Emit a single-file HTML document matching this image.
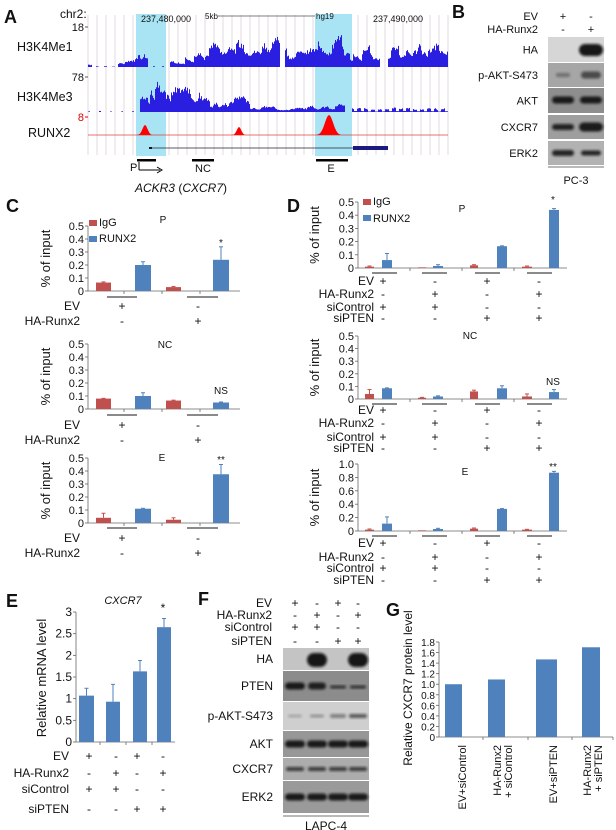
<!DOCTYPE html>
<html><head><meta charset="utf-8">
<style>
html,body{margin:0;padding:0;background:#fff;}
svg{display:block;font-family:"Liberation Sans",Arial,sans-serif;}
</style></head>
<body>
<svg id="s" width="616" height="830" viewBox="0 0 616 830" xmlns="http://www.w3.org/2000/svg">
<defs>
<filter id="bl" x="-20%" y="-50%" width="140%" height="200%"><feGaussianBlur stdDeviation="1.2"/></filter>
</defs>
<g id="g"></g>
</svg>
<script>
var out=[];
function T(x,y,t,o){o=o||{};out.push('<text x="'+x+'" y="'+y+'" font-size="'+(o.s||11)+'"'+(o.a?' text-anchor="'+o.a+'"':'')+(o.b?' font-weight="bold"':'')+(o.i?' font-style="italic"':'')+(o.f?' fill="'+o.f+'"':' fill="#111"')+(o.t?' transform="'+o.t+'"':'')+'>'+t+'</text>');}
function R(x,y,w,h,f,ex){out.push('<rect x="'+x+'" y="'+y+'" width="'+w+'" height="'+h+'" fill="'+f+'"'+(ex||'')+'/>');}
function L(x1,y1,x2,y2,c,w){out.push('<line x1="'+x1+'" y1="'+y1+'" x2="'+x2+'" y2="'+y2+'" stroke="'+(c||'#333')+'" stroke-width="'+(w||1)+'"/>');}
var seed=7;function rnd(){seed=(seed*9301+49297)%233280;return seed/233280;}

/* ---------- Panel A ---------- */
T(4,23,'A',{s:18,b:1});
for(var x=88;x<=448;x+=9)L(x,15,x,155,'#e2dae2',1);
R(136,14,30,142,'#a8e4f4');R(315,14,37,142,'#a8e4f4');
T(60,18,'chr2:',{s:12});
T(141,22,'237,480,000',{s:9});T(205,19,'5kb',{s:8});L(218,16,315,16,'#555',0.7);T(316,19,'hg19',{s:8});T(373,22,'237,490,000',{s:9});
T(84,31,'18',{s:11,a:'end'});L(85,27,88,27,'#555');
T(17,51,'H3K4Me1',{s:12.5});
T(84,81,'78',{s:11,a:'end'});L(85,77,88,77,'#555');
T(17,101,'H3K4Me3',{s:12.5});
T(84,121,'8',{s:11,a:'end',f:'#d00'});L(85,117,88,117,'#d00');
T(28,137,'RUNX2',{s:12.5});
function env1(x){if(x<92)return 4;if(x<118)return x%8<3?1:0;if(x<138)return 10;if(x<148)return 22;if(x<170)return x%9<2?1:0;if(x<185)return 5;if(x<205)return 16;if(x<280)return 26;if(x<285)return 0;if(x<300)return 20;if(x<350)return 30;if(x<380)return 18;if(x<388)return 0;if(x<448)return 22;return 0;}
function env2(x){if(x<140)return x%11<2?1:0;if(x<150)return 14;if(x<158)return 32;if(x<210)return 24;if(x<250)return 14;if(x<265)return 7;if(x<305)return 5;if(x<345)return 7;if(x<352)return 0;if(x<448)return x%7<4?4:1;return 0;}
function track(env,base){var p='M88,'+base;var cur=0.6,tgt=0.6;for(var x=88;x<=448;x+=1){if(rnd()<0.25)tgt=0.3+0.8*rnd();cur+= (tgt-cur)*0.5;var e=env(x);var h=Math.min(e*1.2,e*cur*(0.85+0.3*rnd()));p+=' L'+x+','+(base-h).toFixed(1)+' L'+(x+1)+','+(base-h).toFixed(1);}p+=' L448,'+base+' Z';out.push('<path d="'+p+'" fill="#2a1ee0"/>');}
track(env1,67);track(env2,112);
L(88,135,448,135,'#e04040',0.8);
function pk(c,h,w){var p='M'+(c-w)+',135';for(var i=-w;i<=w;i++){var v=Math.exp(-(i*i)/(w*w/5));p+=' L'+(c+i)+','+(135-h*v).toFixed(1);}p+=' Z';out.push('<path d="'+p+'" fill="#f00"/>');}
pk(145,10,8);pk(239,8,7);pk(329,20,13);
L(150,148,353,148,'#223',0.8);R(149,147,3,2,'#112');R(353,146,35,4,'#1a1a80');
R(137,159,19,2.5,'#000');R(192,159,22,2.5,'#000');R(316,159,32,2.5,'#000');
T(130,171,'P',{s:11});L(139,162,139,170,'#000');L(139,170,160,170,'#000');out.push('<path d="M157,167 L162,170 L157,173" fill="none" stroke="#000"/>');
T(203,172,'NC',{s:11,a:'middle'});T(331,172,'E',{s:11,a:'middle'});
out.push('<text x="181" y="192" font-size="12" text-anchor="middle" fill="#111"><tspan font-style="italic">ACKR3</tspan> (<tspan font-style="italic">CXCR7</tspan>)</text>');

function band(cx,cy,w,h,op){out.push('<rect x="'+(cx-w/2)+'" y="'+(cy-h/2)+'" width="'+w+'" height="'+h+'" rx="'+(h/2)+'" fill="#111" opacity="'+op+'" filter="url(#bl)"/>');}

/* ---------- Panel B ---------- */
T(452,18,'B',{s:18,b:1});
T(538,20,'EV',{s:11,a:'end'});T(538,33,'HA-Runx2',{s:11,a:'end'});
T(563,20,'+',{s:11,a:'middle'});T(591,20,'-',{s:11,a:'middle'});
T(563,33,'-',{s:11,a:'middle'});T(591,33,'+',{s:11,a:'middle'});
var bR=[[37,62,'#d6d6d6','HA'],[63,87,'#a6a6a6','p-AKT-S473'],[88,113,'#8e8e8e','AKT'],[115,139,'#9e9e9e','CXCR7'],[141,165,'#b2b2b2','ERK2']];
bR.forEach(function(r){R(548,r[0],56,r[1]-r[0],r[2]);T(538,(r[0]+r[1])/2+4,r[3],{s:11,a:'end'});});
band(591,50,24,12,0.95);
band(563,75,14,4,0.35);band(591,75,20,7,0.6);
band(563,100,22,7,0.9);band(591,100,22,7,0.9);
band(563,127,22,6,0.85);band(591,127,24,9,0.9);
band(563,153,22,6,0.85);band(591,153,20,5,0.85);
L(548,167,604,167,'#444',0.8);T(576,184,'PC-3',{s:11,a:'middle'});

var RED='#c0504d',BLUE='#4f81bd';
function chart(o){
 var sc=(o.zero-o.top)/o.max;
 L(o.ax,o.top,o.ax,o.zero,'#666',0.8);L(o.ax,o.zero,o.xend,o.zero,'#666',0.8);
 o.ticks.forEach(function(t){var y=o.zero-t[0]*sc;L(o.ax-3,y,o.ax,y,'#666',0.8);T(o.ax-4,y+4,t[1],{s:o.ts||11,a:'end'});});
 (o.xt||[]).forEach(function(x){L(x,o.zero,x,o.zero+3,'#666',0.8);});
 o.bars.forEach(function(b){var h=b[2]*sc;R(b[0],o.zero-h,b[1]-b[0],h,b[4]);if(b[3]){var cx=(b[0]+b[1])/2;L(cx,o.zero-h,cx,o.zero-h-b[3]*sc,b[4],1);L(cx-2,o.zero-h-b[3]*sc,cx+2,o.zero-h-b[3]*sc,b[4],1);}});
}
function rows(right,cols,labs,ys,vals,fs){labs.forEach(function(l,i){T(right,ys[i]+4,l,{s:fs||11,a:'end'});vals[i].forEach(function(v,j){T(cols[j],ys[i]+4,v,{s:fs||11,a:'middle'});});});}
function ylab(x,y,t,fs){T(x,y,t,{s:fs||12,a:'middle',t:'rotate(-90 '+x+' '+y+')'});}

/* ---------- Panel C ---------- */
T(6,212,'C',{s:18,b:1});
var tk5=[[0,'0'],[0.1,'0.1'],[0.2,'0.2'],[0.3,'0.3'],[0.4,'0.4'],[0.5,'0.5']];
function cchart(top,zero,vals,ul,evy,hay,lab,labx,laby,star,stary){
 chart({ax:88,top:top,zero:zero,xend:240,max:0.5,ticks:tk5,xt:[124,162,200],bars:[[96,111,vals[0],vals[1],RED],[135,151,vals[2],vals[3],BLUE],[166,181,vals[4],vals[5],RED],[213,229,vals[6],vals[7],BLUE]]});
 L(107,ul,137,ul,'#444',1.2);L(187,ul,218,ul,'#444',1.2);
 rows(80,[122,198],['EV','HA-Runx2'],[evy,hay],[['+','-'],['-','+']],12);
 T(labx,laby,lab,{s:10,a:'middle'});if(star)T(221,stary,star,{s:10,a:'middle'});
 ylab(50,(top+zero)/2,'% of input',13);
}
cchart(226,291,[0.065,0.005,0.2,0.025,0.03,0.005,0.24,0.1],297,306,321,'P',163,223,'*',246);
cchart(344,409,[0.08,0.002,0.1,0.025,0.065,0.003,0.05,0.004],415,425,440,'NC',165,348,'NS',394);
cchart(458,523,[0.04,0.035,0.11,0.003,0.025,0.015,0.375,0.075],528,538,553,'E',162,461,'**',463);
R(89,220,8,6,RED);T(99,226,'IgG',{s:11});R(89,236,8,6,BLUE);T(99,242,'RUNX2',{s:11});

/* ---------- Panel D ---------- */
T(287,212,'D',{s:18,b:1});
var dcols=[383,435,487,539];
function dchart(top,zero,max,ticks,vals,ul,ys,lab,laby,star,stary){
 var b=[[365,374],[382,392],[418,426],[433,443],[470,478],[497,507],[522,532],[549,559]];
 var bars=b.map(function(p,i){return [p[0],p[1],vals[i][0],vals[i][1],i%2?BLUE:RED];});
 chart({ax:358,top:top,zero:zero,xend:567,max:max,ticks:ticks,ts:11,xt:[410,462,514],bars:bars});
 [[372,397],[422,447],[475,500],[527,552]].forEach(function(u){L(u[0],ul,u[1],ul,'#444',1.2);});
 rows(374,dcols,['EV','HA-Runx2','siControl','siPTEN'],ys,[['+','-','+','-'],['-','+','-','+'],['+','+','-','-'],['-','-','+','+']],12);
 T(lab[1],laby,lab[0],{s:10,a:'middle'});if(star)T(553,stary,star,{s:10,a:'middle'});
 ylab(319,(top+zero)/2,'% of input',13);
}
dchart(202,268,0.5,tk5,[[0.01,0.005],[0.06,0.05],[0.005,0],[0.015,0.01],[0.02,0.005],[0.165,0.003],[0.01,0.005],[0.44,0.01]],273,[281,294,307,318],['P',462],212,'*',203);
dchart(336,399,0.5,tk5,[[0.04,0.035],[0.085,0.003],[0.01,0.003],[0.02,0.005],[0.06,0.01],[0.085,0.02],[0.02,0.02],[0.055,0.02]],404,[410,423,437,448],['NC',470],339,'NS',385);
dchart(464,531,1.0,[[0,'0'],[0.2,'0.2'],[0.4,'0.4'],[0.6,'0.6'],[0.8,'0.8'],[1.0,'1.0']],[[0.02,0.01],[0.11,0.1],[0.01,0],[0.03,0.01],[0.035,0.01],[0.33,0.005],[0.02,0.005],[0.87,0.02]],536,[543,557,568,580],['E',465],475,'**',470);
R(363,199,8,6,RED);T(373,205,'IgG',{s:11});R(363,215,8,6,BLUE);T(373,222,'RUNX2',{s:11});

/* ---------- Panel E ---------- */
T(6,607,'E',{s:18,b:1});
T(123,604,'CXCR7',{s:11,a:'middle',i:1});
chart({ax:76,top:612,zero:742,xend:175,max:3,ts:12,ticks:[[0,'0'],[0.5,'0.5'],[1,'1'],[1.5,'1.5'],[2,'2'],[2.5,'2.5'],[3,'3']],xt:[100,126,152],
 bars:[[79,94,1.07,0.17,BLUE],[106,120,0.93,0.4,BLUE],[133,147,1.63,0.25,BLUE],[157,171,2.65,0.2,BLUE]]});
T(163,612,'*',{s:12,a:'middle'});
ylab(46,678,'Relative mRNA level',13);
rows(69,[89,116,137,163],['EV','HA-Runx2','siControl','siPTEN'],[756,773,789,809],[['+','-','+','-'],['-','+','-','+'],['+','+','-','-'],['-','-','+','+']],12);

/* ---------- Panel F ---------- */
T(198,605,'F',{s:18,b:1});
var fc=[295,317,338,358];
rows(272,fc,['EV','HA-Runx2','siControl','siPTEN'],[603,615,627,641],[['+','-','+','-'],['-','+','-','+'],['+','+','-','-'],['-','-','+','+']],12);
var fR=[[648,670,'#c4c4c4','HA'],[671,701,'#8c8c8c','PTEN'],[702,730,'#cfcfcf','p-AKT-S473'],[731,757,'#979797','AKT'],[758,780,'#acacac','CXCR7'],[781,813,'#9a9a9a','ERK2']];
fR.forEach(function(r){R(283,r[0],86,r[1]-r[0],r[2]);T(273,(r[0]+r[1])/2+4,r[3],{s:12,a:'end'});});
band(317,660,20,14,0.95);band(358,660,20,14,0.95);
band(295,686,20,7,0.9);band(317,686,18,7,0.85);band(338,687,16,3,0.75);band(358,687,16,3,0.75);
band(295,716,14,3,0.2);band(317,716,14,3,0.3);band(338,716,16,4,0.4);band(358,716,18,4,0.6);
fc.forEach(function(c){band(c,744,20,7,0.9);band(c,769,18,4,0.7);band(c,797,20,7,0.9);});
L(283,816,369,816,'#444',0.8);T(326,830,'LAPC-4',{s:12,a:'middle'});

/* ---------- Panel G ---------- */
T(386,616,'G',{s:18,b:1});
chart({ax:439,top:642,zero:737,xend:613,max:1.8,ts:10,ticks:[[0,'0'],[0.2,'0.2'],[0.4,'0.4'],[0.6,'0.6'],[0.8,'0.8'],[1.0,'1.0'],[1.2,'1.2'],[1.4,'1.4'],[1.6,'1.6'],[1.8,'1.8']],xt:[483,528,572,613],
 bars:[[445,462,1.0,0,BLUE],[488,505,1.09,0,BLUE],[536,557,1.47,0,BLUE],[582,600,1.7,0,BLUE]]});
ylab(412,688,'Relative CXCR7 protein level',12);
function vl(x,t){T(x,745,t,{s:11,a:'end',t:'rotate(-90 '+x+' 745)'});}
vl(466,'EV+siControl');vl(501,'HA-Runx2');vl(512,'+ siControl');vl(557,'EV+siPTEN');vl(591,'HA-Runx2');vl(602,'+ siPTEN');

document.getElementById('g').innerHTML=out.join('');
</script>
</body></html>
